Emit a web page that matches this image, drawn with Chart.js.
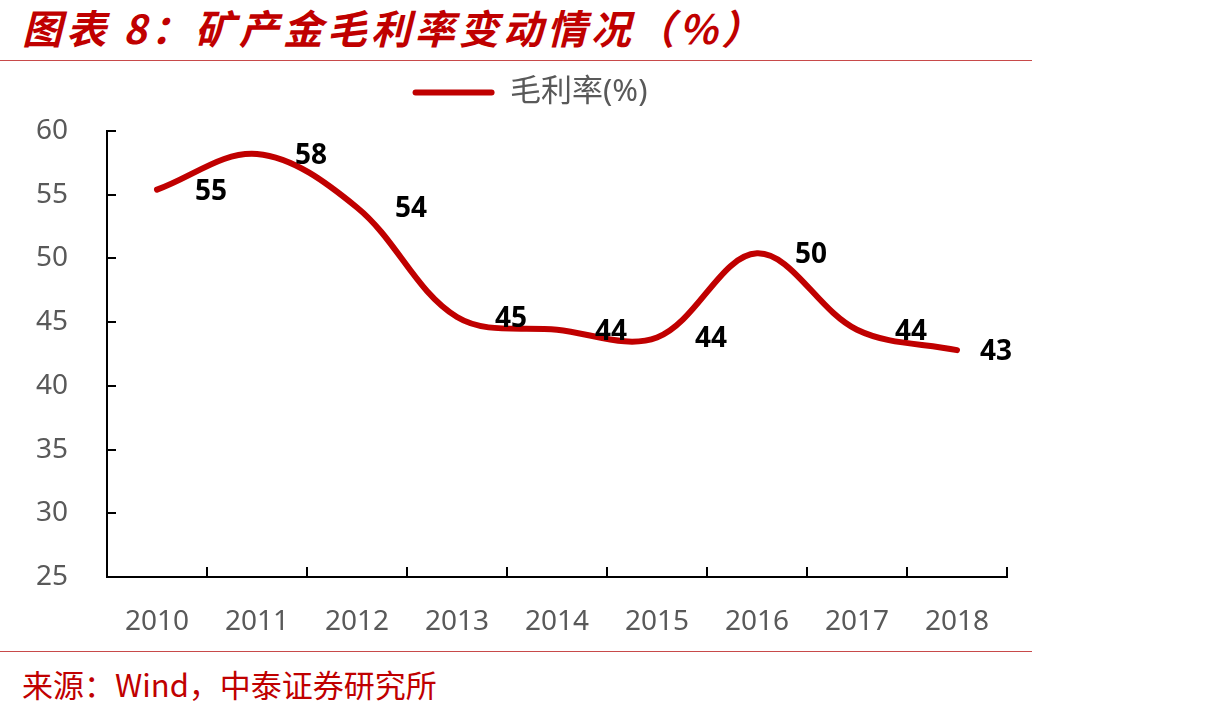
<!DOCTYPE html>
<html>
<head>
<meta charset="utf-8">
<script src="https://cdn.jsdelivr.net/npm/chart.js@4"></script>
<style>
    body { margin: 0; width: 1210px; height: 715px; background: #fff; position: relative; overflow: hidden; }
    #title { position: absolute; left: 22px; top: -2px; line-height: 40px; white-space: nowrap;
             font: italic bold 40px "Noto Sans CJK SC"; letter-spacing: 4px; color: #c00000; }
    .rule { position: absolute; left: 0; width: 1032px; height: 1px; background: #c84a4a; }
    #source { position: absolute; left: 22px; top: 661px; line-height: 31px; white-space: nowrap;
              font: 31px "Noto Sans CJK SC"; color: #c00000; }
    #wrap { position: absolute; left: 0; top: 62px; width: 1060px; height: 588px; }
</style>
</head>
<body>
<div id="title">图表 8：矿产金毛利率变动情况（%）</div>
<div class="rule" style="top:60px"></div>
<div id="wrap"><canvas id="marginChart"></canvas></div>
<div class="rule" style="top:651px"></div>
<div id="source">来源：Wind，中泰证券研究所</div>

<script>
// Data
const years = ['2010', '2011', '2012', '2013', '2014', '2015', '2016', '2017', '2018'];
const grossMargin = [55.4, 58.2, 54.0, 45.4, 44.4, 43.8, 50.4, 44.4, 42.8];
const seriesName = '毛利率(%)';
const yMin = 25;
const yMax = 60;
const yStep = 5;

const RED = '#c00000';
const GREY = '#595959';
const FONT = '"Noto Sans", "Noto Sans CJK SC", sans-serif';

// Short tick marks pointing into the plot area
const innerTicks = {
    id: 'innerTicks',
    afterDraw(chart) {
        const { ctx, scales: { x, y } } = chart;
        ctx.save();
        ctx.strokeStyle = '#000';
        ctx.lineWidth = 2;
        ctx.beginPath();
        y.ticks.forEach(t => {
            const py = Math.round(y.getPixelForValue(t.value));
            ctx.moveTo(y.right, py);
            ctx.lineTo(y.right + 9, py);
        });
        for (let i = 0; i <= years.length; i++) {
            const px = Math.round(x.getPixelForValue(i - 0.5));
            ctx.moveTo(px, x.top);
            ctx.lineTo(px, x.top - 10);
        }
        ctx.stroke();
        ctx.restore();
    }
};

// Value labels to the right of each point
const valueLabels = {
    id: 'valueLabels',
    afterDatasetsDraw(chart) {
        const { ctx, chartArea } = chart;
        const meta = chart.getDatasetMeta(0);
        ctx.save();
        ctx.font = `bold 28px ${FONT}`;
        ctx.fillStyle = '#000';
        ctx.textAlign = 'center';
        ctx.textBaseline = 'middle';
        meta.data.forEach((pt, i) => {
            const lx = Math.min(pt.x + 54, chartArea.right - 11);
            ctx.fillText(Math.round(grossMargin[i]), lx, pt.y + 2);
        });
        ctx.restore();
    }
};

// Legend: fixed height, and centred a little right of the canvas middle
const legendPlacement = {
    id: 'legendPlacement',
    beforeInit(chart) {
        const fit = chart.legend.fit;
        chart.legend.fit = function () {
            fit.call(this);
            this.height = 64;
        };
    },
    afterLayout(chart) {
        chart.legend.left = 53;
    }
};

new Chart(document.getElementById('marginChart'), {
    type: 'line',
    data: {
        labels: years,
        datasets: [{
            label: seriesName,
            data: grossMargin,
            borderColor: RED,
            backgroundColor: RED,
            borderWidth: 6,
            borderCapStyle: 'round',
            tension: 0.35,
            pointRadius: 0,
            fill: false
        }]
    },
    options: {
        responsive: true,
        maintainAspectRatio: false,
        animation: false,
        layout: { padding: { top: 5, left: 0, right: 53, bottom: 0 } },
        plugins: {
            tooltip: { enabled: false },
            legend: {
                position: 'top',
                labels: {
                    boxWidth: 82,
                    boxHeight: 6,
                    padding: 10,
                    color: GREY,
                    font: { family: FONT, size: 31 },
                    generateLabels(chart) {
                        return Chart.defaults.plugins.legend.labels.generateLabels(chart).map(item => {
                            item.lineWidth = 0;
                            item.borderRadius = 3;
                            return item;
                        });
                    }
                }
            }
        },
        scales: {
            x: {
                offset: true,
                grid: { display: false, drawTicks: false },
                border: { display: true, color: '#000', width: 2 },
                ticks: { color: GREY, padding: 28, font: { family: FONT, size: 28 }, maxRotation: 0 },
                afterFit(scale) { scale.height = 73; }
            },
            y: {
                min: yMin,
                max: yMax,
                grid: { display: false, drawTicks: false },
                border: { display: true, color: '#000', width: 2 },
                ticks: { stepSize: yStep, color: GREY, padding: 39, font: { family: FONT, size: 28 } },
                afterFit(scale) { scale.width = 107; }
            }
        }
    },
    plugins: [innerTicks, valueLabels, legendPlacement]
});
</script>
</body>
</html>
